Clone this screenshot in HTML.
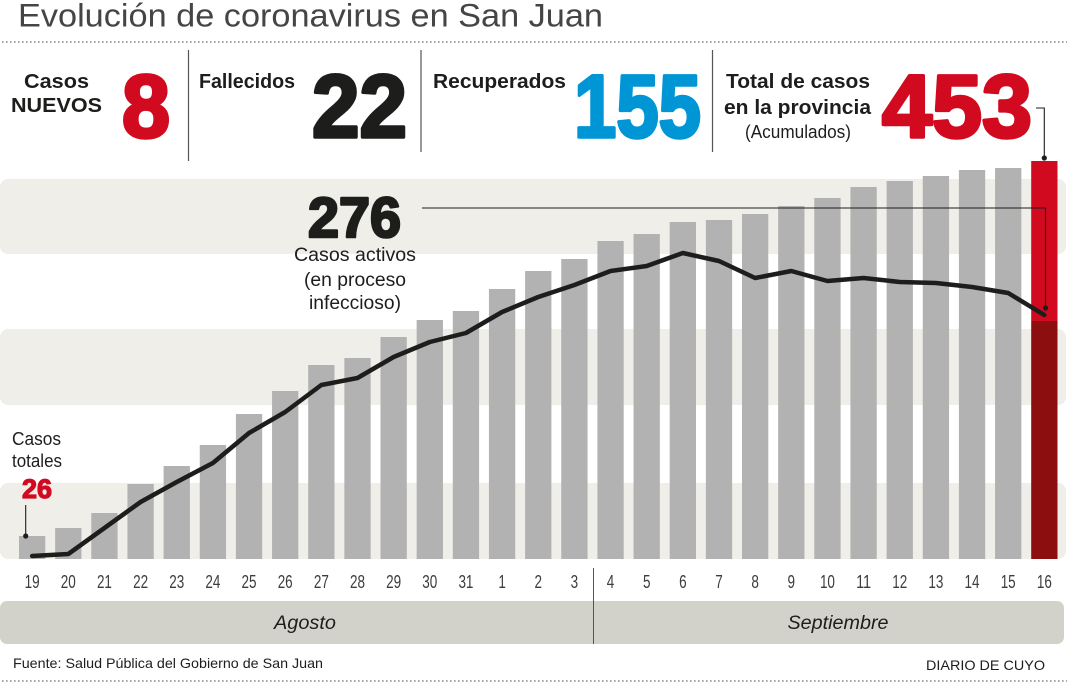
<!DOCTYPE html>
<html>
<head>
<meta charset="utf-8">
<style>
  html,body{margin:0;padding:0;background:#fff;}
  svg{display:block;}
  text{font-family:"Liberation Sans",Arial,sans-serif;}
</style>
</head>
<body>
<svg width="1067" height="682" viewBox="0 0 1067 682" xmlns="http://www.w3.org/2000/svg">
  <!-- Title -->
  <text x="18" y="26.5" font-size="32" fill="#454545" textLength="585" lengthAdjust="spacingAndGlyphs">Evolución de coronavirus en San Juan</text>
  <line x1="2" y1="42" x2="1067" y2="42" stroke="#8a8a8a" stroke-width="1.6" stroke-dasharray="1.6 2.4"/>

  <!-- Stats -->
  <g font-weight="bold" fill="#1d1d1b" font-size="20.5">
    <text x="56.5" y="88" text-anchor="middle" textLength="65" lengthAdjust="spacingAndGlyphs">Casos</text>
    <text x="56.5" y="112" text-anchor="middle" textLength="91" lengthAdjust="spacingAndGlyphs">NUEVOS</text>
    <text x="199" y="88" textLength="96" lengthAdjust="spacingAndGlyphs">Fallecidos</text>
    <text x="433" y="88" textLength="133" lengthAdjust="spacingAndGlyphs">Recuperados</text>
    <text x="726" y="88" textLength="144" lengthAdjust="spacingAndGlyphs">Total de casos</text>
    <text x="724" y="114" textLength="147" lengthAdjust="spacingAndGlyphs">en la provincia</text>
  </g>
  <text x="798" y="138" text-anchor="middle" font-size="18" fill="#1d1d1b" textLength="106" lengthAdjust="spacingAndGlyphs">(Acumulados)</text>

  <g font-weight="bold" font-size="89" stroke-width="3.5" stroke-linejoin="round">
    <text x="122" y="137" fill="#d20a20" stroke="#d20a20" textLength="48" lengthAdjust="spacingAndGlyphs">8</text>
    <text x="312" y="137" fill="#1d1d1b" stroke="#1d1d1b" textLength="95" lengthAdjust="spacingAndGlyphs">22</text>
    <text x="574" y="137" fill="#0096d6" stroke="#0096d6" textLength="127" lengthAdjust="spacingAndGlyphs">155</text>
    <text x="882" y="137" fill="#d20a20" stroke="#d20a20" textLength="150" lengthAdjust="spacingAndGlyphs">453</text>
  </g>

  <!-- separators -->
  <line x1="188.5" y1="50" x2="188.5" y2="161" stroke="#555" stroke-width="1.2"/>
  <line x1="421" y1="50" x2="421" y2="152" stroke="#555" stroke-width="1.2"/>
  <line x1="712.5" y1="50" x2="712.5" y2="152" stroke="#555" stroke-width="1.2"/>

  <!-- background bands -->
  <g fill="#efeee9">
    <rect x="0" y="179" width="1066" height="75" rx="8"/>
    <rect x="0" y="329" width="1066" height="76" rx="8"/>
    <rect x="0" y="483" width="1066" height="76" rx="8"/>
  </g>

  <!-- bars -->
  <g fill="#b3b2b3">
    <rect x="19.0" y="536" width="26.3" height="23"/>
    <rect x="55.15" y="528" width="26.3" height="31"/>
    <rect x="91.3" y="513" width="26.3" height="46"/>
    <rect x="127.45" y="484" width="26.3" height="75"/>
    <rect x="163.6" y="466" width="26.3" height="93"/>
    <rect x="199.75" y="445" width="26.3" height="114"/>
    <rect x="235.9" y="414" width="26.3" height="145"/>
    <rect x="272.05" y="391" width="26.3" height="168"/>
    <rect x="308.2" y="365" width="26.3" height="194"/>
    <rect x="344.35" y="358" width="26.3" height="201"/>
    <rect x="380.5" y="337" width="26.3" height="222"/>
    <rect x="416.65" y="320" width="26.3" height="239"/>
    <rect x="452.8" y="311" width="26.3" height="248"/>
    <rect x="488.95" y="289" width="26.3" height="270"/>
    <rect x="525.1" y="271" width="26.3" height="288"/>
    <rect x="561.25" y="259" width="26.3" height="300"/>
    <rect x="597.4" y="241" width="26.3" height="318"/>
    <rect x="633.55" y="234" width="26.3" height="325"/>
    <rect x="669.7" y="222" width="26.3" height="337"/>
    <rect x="705.85" y="220" width="26.3" height="339"/>
    <rect x="742.0" y="214" width="26.3" height="345"/>
    <rect x="778.15" y="206" width="26.3" height="353"/>
    <rect x="814.3" y="198" width="26.3" height="361"/>
    <rect x="850.45" y="187" width="26.3" height="372"/>
    <rect x="886.6" y="181" width="26.3" height="378"/>
    <rect x="922.75" y="176" width="26.3" height="383"/>
    <rect x="958.9" y="170" width="26.3" height="389"/>
    <rect x="995.05" y="168" width="26.3" height="391"/>
  </g>
  <rect x="1031.2" y="161" width="26.3" height="160" fill="#d20a20"/>
  <rect x="1031.2" y="321" width="26.3" height="238" fill="#8c0e0f"/>

  <!-- active cases line -->
  <polyline fill="none" stroke="#1d1d1b" stroke-width="4.5" stroke-linejoin="round" stroke-linecap="round"
    points="32.15,556 68.3,554 104.45,528 140.6,502 176.75,482 212.9,463 249.05,433 285.2,412 321.35,385 357.5,378 393.65,357 429.8,342 465.95,333 502.1,312 538.25,297 574.4,285 610.55,271 646.7,266 682.85,253 719.0,261 755.15,278 791.3,271 827.45,281 863.6,278 899.75,282 935.9,283 972.05,287 1008.2,293 1044.35,315"/>

  <!-- annotations -->
  <polyline fill="none" stroke="#1d1d1b" stroke-width="1.1" points="422,208 1045.5,208 1045.5,308"/>
  <circle cx="1045.5" cy="308" r="2.6" fill="#1d1d1b"/>
  <polyline fill="none" stroke="#1d1d1b" stroke-width="1.1" points="1036,108 1044.3,108 1044.3,158"/>
  <circle cx="1044.3" cy="158" r="2.6" fill="#1d1d1b"/>
  <line x1="25.7" y1="505" x2="25.7" y2="536" stroke="#1d1d1b" stroke-width="1.1"/>
  <circle cx="25.7" cy="536" r="2.6" fill="#1d1d1b"/>

  <text x="308" y="237" font-size="57" font-weight="bold" fill="#1d1d1b" stroke="#1d1d1b" stroke-width="2.6" stroke-linejoin="round" textLength="93" lengthAdjust="spacingAndGlyphs">276</text>
  <g font-size="19" fill="#1d1d1b" text-anchor="middle">
    <text x="355" y="261" textLength="122" lengthAdjust="spacingAndGlyphs">Casos activos</text>
    <text x="355" y="286" textLength="102" lengthAdjust="spacingAndGlyphs">(en proceso</text>
    <text x="355" y="309" textLength="92" lengthAdjust="spacingAndGlyphs">infeccioso)</text>
  </g>

  <g font-size="18" fill="#1d1d1b">
    <text x="12" y="445" textLength="49" lengthAdjust="spacingAndGlyphs">Casos</text>
    <text x="12" y="467" textLength="50" lengthAdjust="spacingAndGlyphs">totales</text>
  </g>
  <text x="22" y="498" font-size="27" font-weight="bold" fill="#d20a20" stroke="#d20a20" stroke-width="1.2" textLength="30" lengthAdjust="spacingAndGlyphs">26</text>

  <!-- x labels -->
  <g font-size="18" fill="#3d3d3d" text-anchor="middle">
    <text x="32.15" y="588" textLength="15" lengthAdjust="spacingAndGlyphs">19</text>
    <text x="68.3" y="588" textLength="15" lengthAdjust="spacingAndGlyphs">20</text>
    <text x="104.45" y="588" textLength="15" lengthAdjust="spacingAndGlyphs">21</text>
    <text x="140.6" y="588" textLength="15" lengthAdjust="spacingAndGlyphs">22</text>
    <text x="176.75" y="588" textLength="15" lengthAdjust="spacingAndGlyphs">23</text>
    <text x="212.9" y="588" textLength="15" lengthAdjust="spacingAndGlyphs">24</text>
    <text x="249.05" y="588" textLength="15" lengthAdjust="spacingAndGlyphs">25</text>
    <text x="285.2" y="588" textLength="15" lengthAdjust="spacingAndGlyphs">26</text>
    <text x="321.35" y="588" textLength="15" lengthAdjust="spacingAndGlyphs">27</text>
    <text x="357.5" y="588" textLength="15" lengthAdjust="spacingAndGlyphs">28</text>
    <text x="393.65" y="588" textLength="15" lengthAdjust="spacingAndGlyphs">29</text>
    <text x="429.8" y="588" textLength="15" lengthAdjust="spacingAndGlyphs">30</text>
    <text x="465.95" y="588" textLength="15" lengthAdjust="spacingAndGlyphs">31</text>
    <text x="502.1" y="588" textLength="7.5" lengthAdjust="spacingAndGlyphs">1</text>
    <text x="538.25" y="588" textLength="7.5" lengthAdjust="spacingAndGlyphs">2</text>
    <text x="574.4" y="588" textLength="7.5" lengthAdjust="spacingAndGlyphs">3</text>
    <text x="610.55" y="588" textLength="7.5" lengthAdjust="spacingAndGlyphs">4</text>
    <text x="646.7" y="588" textLength="7.5" lengthAdjust="spacingAndGlyphs">5</text>
    <text x="682.85" y="588" textLength="7.5" lengthAdjust="spacingAndGlyphs">6</text>
    <text x="719.0" y="588" textLength="7.5" lengthAdjust="spacingAndGlyphs">7</text>
    <text x="755.15" y="588" textLength="7.5" lengthAdjust="spacingAndGlyphs">8</text>
    <text x="791.3" y="588" textLength="7.5" lengthAdjust="spacingAndGlyphs">9</text>
    <text x="827.45" y="588" textLength="15" lengthAdjust="spacingAndGlyphs">10</text>
    <text x="863.6" y="588" textLength="15" lengthAdjust="spacingAndGlyphs">11</text>
    <text x="899.75" y="588" textLength="15" lengthAdjust="spacingAndGlyphs">12</text>
    <text x="935.9" y="588" textLength="15" lengthAdjust="spacingAndGlyphs">13</text>
    <text x="972.05" y="588" textLength="15" lengthAdjust="spacingAndGlyphs">14</text>
    <text x="1008.2" y="588" textLength="15" lengthAdjust="spacingAndGlyphs">15</text>
    <text x="1044.35" y="588" textLength="15" lengthAdjust="spacingAndGlyphs">16</text>
  </g>

  <!-- month band -->
  <rect x="0" y="601" width="1064" height="43" rx="7" fill="#d3d2ca"/>
  <line x1="593.5" y1="568" x2="593.5" y2="644" stroke="#555" stroke-width="1"/>
  <g font-size="19.5" font-style="italic" fill="#1d1d1b" text-anchor="middle">
    <text x="305" y="629" textLength="62" lengthAdjust="spacingAndGlyphs">Agosto</text>
    <text x="838" y="629" textLength="101" lengthAdjust="spacingAndGlyphs">Septiembre</text>
  </g>

  <!-- footer -->
  <text x="13" y="668" font-size="14" fill="#1d1d1b" textLength="310" lengthAdjust="spacingAndGlyphs">Fuente: Salud Pública del Gobierno de San Juan</text>
  <text x="1045" y="670" font-size="14" fill="#1d1d1b" text-anchor="end" textLength="119" lengthAdjust="spacingAndGlyphs">DIARIO DE CUYO</text>
  <line x1="2" y1="681" x2="1067" y2="681" stroke="#8a8a8a" stroke-width="1.6" stroke-dasharray="1.6 2.4"/>
</svg>
</body>
</html>
